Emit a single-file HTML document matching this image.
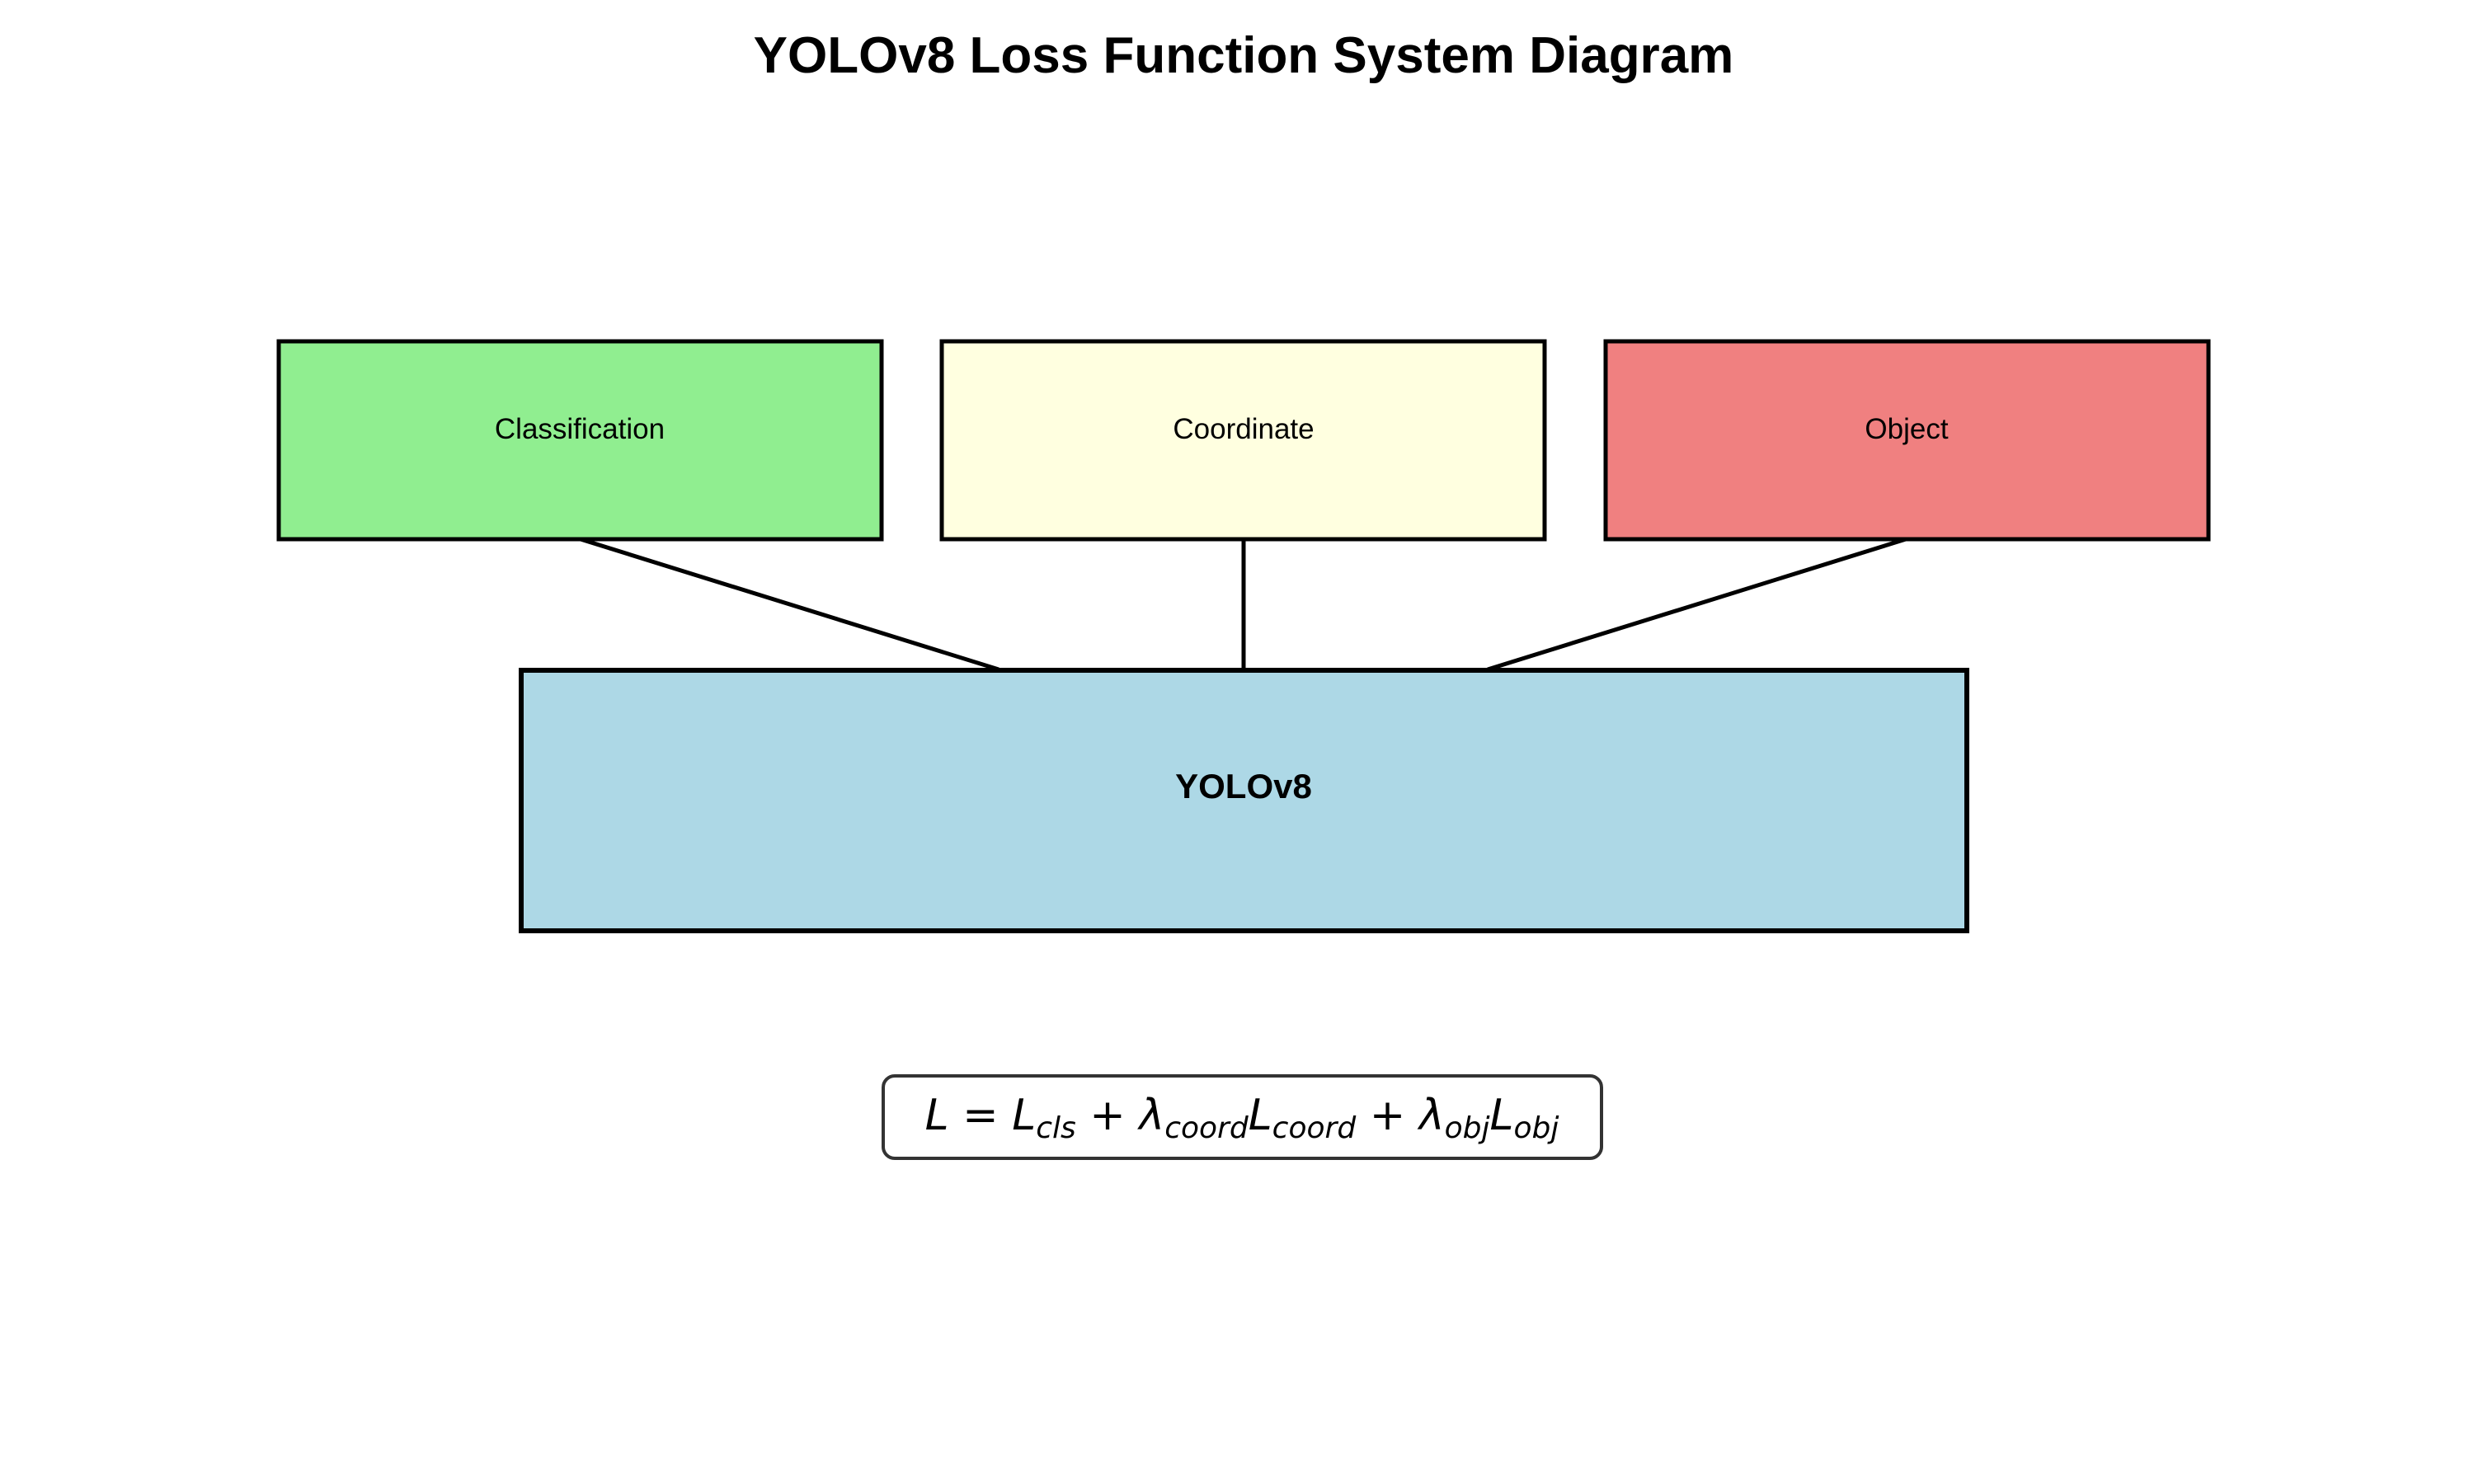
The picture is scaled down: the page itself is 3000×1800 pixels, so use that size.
<!DOCTYPE html>
<html><head><meta charset="utf-8"><style>
html,body{margin:0;padding:0;background:#fff;}
body{width:3000px;height:1800px;position:relative;overflow:hidden;font-family:"Liberation Sans",sans-serif;}
</style></head><body>
<svg width="3000" height="1800" viewBox="0 0 3000 1800" xmlns="http://www.w3.org/2000/svg" style="position:absolute;left:0;top:0">
<text x="1508" y="88" text-anchor="middle" font-family="Liberation Sans, sans-serif" font-weight="bold" font-size="62">YOLOv8 Loss Function System Diagram</text>
<line x1="704" y1="654" x2="1211" y2="812" stroke="#000" stroke-width="5"/>
<line x1="1508" y1="654" x2="1508" y2="812" stroke="#000" stroke-width="5"/>
<line x1="2311" y1="654" x2="1804" y2="812" stroke="#000" stroke-width="5"/>
<rect x="338" y="414" width="731" height="240" fill="#90ee90" stroke="#000" stroke-width="5"/>
<rect x="1142" y="414" width="731" height="240" fill="#ffffe0" stroke="#000" stroke-width="5"/>
<rect x="1947" y="414" width="731" height="240" fill="#f08080" stroke="#000" stroke-width="5"/>
<text x="703" y="532" text-anchor="middle" font-size="35" font-family="Liberation Sans, sans-serif">Classification</text>
<text x="1508" y="532" text-anchor="middle" font-size="35" font-family="Liberation Sans, sans-serif">Coordinate</text>
<text x="2312" y="532" text-anchor="middle" font-size="35" font-family="Liberation Sans, sans-serif">Object</text>
<rect x="632" y="813" width="1753" height="316" fill="#add8e6" stroke="#000" stroke-width="6"/>
<text x="1508" y="968" text-anchor="middle" font-size="42" font-weight="bold" font-family="Liberation Sans, sans-serif">YOLOv8</text>
<rect x="1071" y="1305" width="871" height="100" rx="14" fill="#fff" stroke="#333" stroke-width="4"/>
<text x="1506" y="1370" text-anchor="middle" font-family="DejaVu Sans, sans-serif" font-size="52" font-style="oblique">L <tspan font-style="normal">=</tspan> L<tspan font-size="36" dy="10">cls</tspan><tspan dy="-10" font-style="normal"> + </tspan>λ<tspan font-size="36" dy="10">coord</tspan><tspan dy="-10">L</tspan><tspan font-size="36" dy="10">coord</tspan><tspan dy="-10" font-style="normal"> + </tspan>λ<tspan font-size="36" dy="10">obj</tspan><tspan dy="-10">L</tspan><tspan font-size="36" dy="10">obj</tspan></text>
</svg>
</body></html>
